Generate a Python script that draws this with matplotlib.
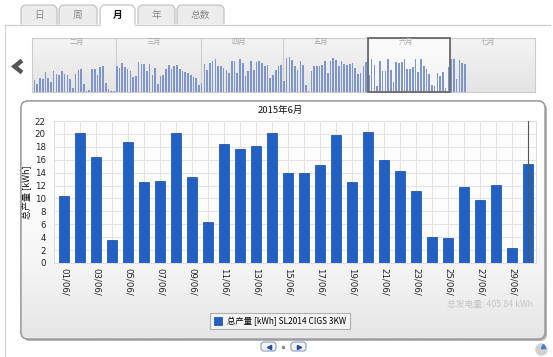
import numpy as np
import pandas as pd
import matplotlib
matplotlib.use("Agg")
import matplotlib.pyplot as plt
import matplotlib.dates as mdates
from matplotlib.patches import FancyBboxPatch, Rectangle, Polygon
from matplotlib.colors import LinearSegmentedColormap

plt.rcParams['font.family'] = ['Noto Sans CJK SC', 'DejaVu Sans']

# === данные: июнь 2015, дневная выработка, kWh ===
june_days = [f"{d:02d}/06/" for d in range(1, 31)]
june_kwh = [10.4, 20.2, 16.5, 3.6, 18.8, 12.6, 12.7, 20.1, 13.4, 6.3,
            18.5, 17.7, 18.1, 20.1, 14.0, 14.0, 15.2, 19.9, 12.5, 20.3,
            15.9, 14.3, 11.1, 4.0, 3.8, 11.8, 9.7, 12.1, 2.4, 15.3]
total_kwh = 405.84

# === навигатор: 30.01 .. 06.07 ===
janfeb_kwh = [7.1, 5.1, 8.5, 8.1, 12.2, 8.5, 6.1, 12.6, 11.2, 10.2,
              12.6, 11.2, 10.2, 8.1, 2.4, 11.2, 13.2, 13.8, 5.1, 0.6,
              1.0, 13.8, 13.8, 10.2, 15.2, 15.9, 5.7, 2.0, 0.5, 0.8]
mar_kwh = [15.9, 14.6, 17.9, 15.2, 13.8, 12.6, 9.1, 9.8, 18.3, 17.3,
           17.3, 12.6, 17.3, 10.2, 14.6, 5.1, 9.8, 10.2, 14.2, 16.7,
           14.2, 15.9, 16.3, 14.2, 12.6, 12.2, 11.8, 10.2, 9.1, 8.5, 4.0]
apr_kwh = [5.5, 17.0, 13.6, 17.7, 19.1, 20.3, 15.6, 15.6, 14.6, 13.6,
           11.6, 19.1, 19.1, 11.6, 20.3, 17.7, 9.6, 12.6, 18.7, 13.6,
           18.3, 18.7, 17.7, 15.6, 16.7, 8.5, 10.6, 13.6, 15.6, 16.3]
may_kwh = [6.5, 20.7, 21.1, 19.7, 15.6, 13.6, 18.7, 16.3, 4.5, 0.5,
           13.0, 15.6, 15.6, 15.6, 16.7, 18.7, 11.6, 19.1, 20.7, 19.7,
           15.6, 18.7, 17.1, 16.7, 17.1, 17.7, 14.6, 11.0, 11.6, 15.6, 18.3]
jul_kwh = [19.9, 20.3, 8.1, 19.3, 17.9, 17.3]
month_names = ["二月", "三月", "四月", "五月", "六月", "七月"]
tab_names = ["日", "周", "月", "年", "总数"]

W, H = 553, 357
fig = plt.figure(figsize=(W / 100, H / 100), dpi=100)


def ax_px(x0, y0, x1, y1):
    return fig.add_axes([x0 / W, 1 - y1 / H, (x1 - x0) / W, (y1 - y0) / H])


# === фон / элементы интерфейса ===
bg = fig.add_axes([0, 0, 1, 1])
bg.set_xlim(0, W)
bg.set_ylim(H, 0)
bg.axis('off')


def tab_pts(x0, x1, y0, y1, r):
    pts = [(x0, y1)]
    for a in np.linspace(np.pi, 1.5 * np.pi, 8):
        pts.append((x0 + r + r * np.cos(a), y0 + r + r * np.sin(a)))
    for a in np.linspace(1.5 * np.pi, 2 * np.pi, 8):
        pts.append((x1 - r + r * np.cos(a), y0 + r + r * np.sin(a)))
    pts.append((x1, y1))
    return pts


tab_x = [(21, 57), (59, 97), (100, 135), (138, 175), (177, 224)]
active = 2
for i, (name, (x0, x1)) in enumerate(zip(tab_names, tab_x)):
    pts = tab_pts(x0, x1, 5, 24.5, 5)
    fc = 'white' if i == active else '#ececec'
    bg.add_patch(Polygon(pts, closed=True, facecolor=fc, edgecolor='none', zorder=2))
    bg.add_patch(Polygon(pts, closed=False, fill=False, edgecolor='#c4c4c4', lw=0.9, zorder=3))
    bg.text((x0 + x1) / 2, 15, name, ha='center', va='center', fontsize=7,
            color='#111' if i == active else '#8a8a8a',
            fontweight='bold' if i == active else 'normal', zorder=4)

bg.plot([5, tab_x[active][0]], [24.5, 24.5], color='#cfcfcf', lw=0.9, zorder=3)
bg.plot([tab_x[active][1], 550], [24.5, 24.5], color='#cfcfcf', lw=0.9, zorder=3)
bg.plot([5, 5], [24.5, H], color='#d4d4d4', lw=0.9)

# стрелка влево
bg.plot([22, 14.5, 22], [60.5, 66.5, 72.5], color='#555555', lw=3.2,
        solid_joinstyle='miter', solid_capstyle='butt')

# панель графика
shadow = FancyBboxPatch((23, 103), 524, 238, boxstyle="round,pad=0,rounding_size=7",
                        facecolor='#b5b5b5', edgecolor='none', zorder=1)
bg.add_patch(shadow)
panel = FancyBboxPatch((21, 101), 524, 238, boxstyle="round,pad=0,rounding_size=7",
                       facecolor='white', edgecolor='#9a9a9a', lw=1.0, zorder=2)
bg.add_patch(panel)
grad = np.linspace(0, 1, 200).reshape(-1, 1)
cm = LinearSegmentedColormap.from_list('g', ['#ffffff', '#ffffff', '#f6f6f6', '#e6e6e6'])
im = bg.imshow(grad, extent=(21, 545, 339, 101), cmap=cm, aspect='auto', zorder=2.1)
im.set_clip_path(panel)
bg.add_patch(FancyBboxPatch((21, 101), 524, 238, boxstyle="round,pad=0,rounding_size=7",
                            fill=False, edgecolor='#9a9a9a', lw=1.0, zorder=2.2))

bg.text(280, 110, "2015年6月", ha='center', va='center', fontsize=6.8, color='#111',
        fontweight='medium', zorder=3)
bg.text(27, 192, "总产量 [kWh]", rotation=90, ha='center', va='center',
        fontsize=6.5, color='#111', fontweight='medium', zorder=3)
bg.text(533, 304, f"总发电量: {total_kwh:.2f} kWh", ha='right', va='center',
        fontsize=6.3, color='#c4c4c4', zorder=3)

# кнопки внизу
for x0 in (261, 291):
    bg.add_patch(FancyBboxPatch((x0, 342), 15, 9, boxstyle="round,pad=0,rounding_size=3",
                                facecolor='#f3f5fa', edgecolor='#8d9bb8', lw=0.8, zorder=3))
bg.plot([268.5], [346.5], marker='<', ms=3, color='#2a4aa0', zorder=4)
bg.plot([298.8], [346.5], marker='>', ms=3, color='#2a4aa0', zorder=4)
bg.plot([283], [346.5], marker='o', ms=1.5, color='#8a8a8a', zorder=4)
bg.plot([541], [349], marker='o', ms=8, color='#d0d0d0', zorder=3)
bg.plot([543], [346], marker='^', ms=3, color='#3a7bd5', zorder=4)

# === навигатор ===
nav_vals = janfeb_kwh + mar_kwh + apr_kwh + may_kwh + june_kwh + jul_kwh
nav_dates = pd.date_range("2015-01-30", periods=len(nav_vals), freq="D")
nav = ax_px(32, 38, 535, 92)
cm2 = LinearSegmentedColormap.from_list('n', ['#f4f4f4', '#e4e4e4'])
nav.imshow(grad, extent=(0, 1, 0, 1), transform=nav.transAxes, cmap=cm2, aspect='auto', zorder=0)
nx = mdates.date2num(nav_dates.to_pydatetime())
nav.bar(nx + 0.1, nav_vals, width=0.6, align='edge', color='#8095c9', zorder=2)
jun1 = mdates.date2num(pd.Timestamp("2015-06-01"))
jul1 = mdates.date2num(pd.Timestamp("2015-07-01"))
nav.axvspan(jun1, jul1, facecolor='white', alpha=0.65, zorder=1)
nav.add_patch(Rectangle((jun1, 0), jul1 - jun1, 33, fill=False, edgecolor='#6a6a6a',
                        lw=1.3, zorder=3, clip_on=False))
for m in range(3, 8):
    nav.axvline(mdates.date2num(pd.Timestamp(f"2015-{m:02d}-01")), color='#cfcfcf', lw=0.8, zorder=1)
for m, name in zip(range(2, 8), month_names):
    nav.text(mdates.date2num(pd.Timestamp(f"2015-{m:02d}-15")), 30.5, name,
             ha='center', va='center', fontsize=5.2, color='#a8a8a8', zorder=4)
nav.set_xlim(mdates.date2num(pd.Timestamp("2015-01-29 12:00")),
             mdates.date2num(pd.Timestamp("2015-08-01")))
nav.set_ylim(0, 33)
nav.set_xticks([])
nav.set_yticks([])
for s in nav.spines.values():
    s.set_color('#cccccc')
    s.set_linewidth(0.8)

# === основной график ===
ax = ax_px(54, 121, 536, 263)
ax.set_facecolor('#fdfdfd')
x = np.arange(len(june_kwh))
bars = ax.bar(x, june_kwh, width=0.62, color='#2161c3', edgecolor='#17469a',
              lw=0.5, zorder=3, label="总产量 [kWh] SL2014 CIGS 3KW")
ax.axvline(x[-1], color='#555555', lw=0.8, zorder=4)
ax.set_xlim(-0.625, 29.5)
ax.set_ylim(0, 22)
ax.set_yticks(range(0, 23, 2))
ax.set_xticks(x)
ax.set_xticklabels([d if i % 2 == 0 else "" for i, d in enumerate(june_days)],
                   rotation=270, fontsize=6.2, family='DejaVu Sans', color='#222')
ax.tick_params(axis='x', length=0, pad=3.5)
ax.tick_params(axis='y', length=0, pad=6, labelsize=6.2, labelcolor='#222')
for lab in ax.get_yticklabels():
    lab.set_family('DejaVu Sans')
ax.grid(True, color='#e2e2e2', lw=0.7, zorder=0)
for s in ax.spines.values():
    s.set_color('#dddddd')
    s.set_linewidth(0.7)

leg = fig.legend(handles=[bars], loc='center', bbox_to_anchor=(280 / W, 1 - 321 / H),
                 prop={'size': 6.0, 'weight': 'medium'}, frameon=True, fancybox=False,
                 edgecolor='#a0a0a0', handlelength=1.0, handleheight=1.0,
                 handletextpad=0.6, borderpad=0.45, borderaxespad=0)
leg.get_frame().set_facecolor('#f8f8f8')
leg.get_frame().set_linewidth(0.8)

fig.savefig("out.png", dpi=100)
